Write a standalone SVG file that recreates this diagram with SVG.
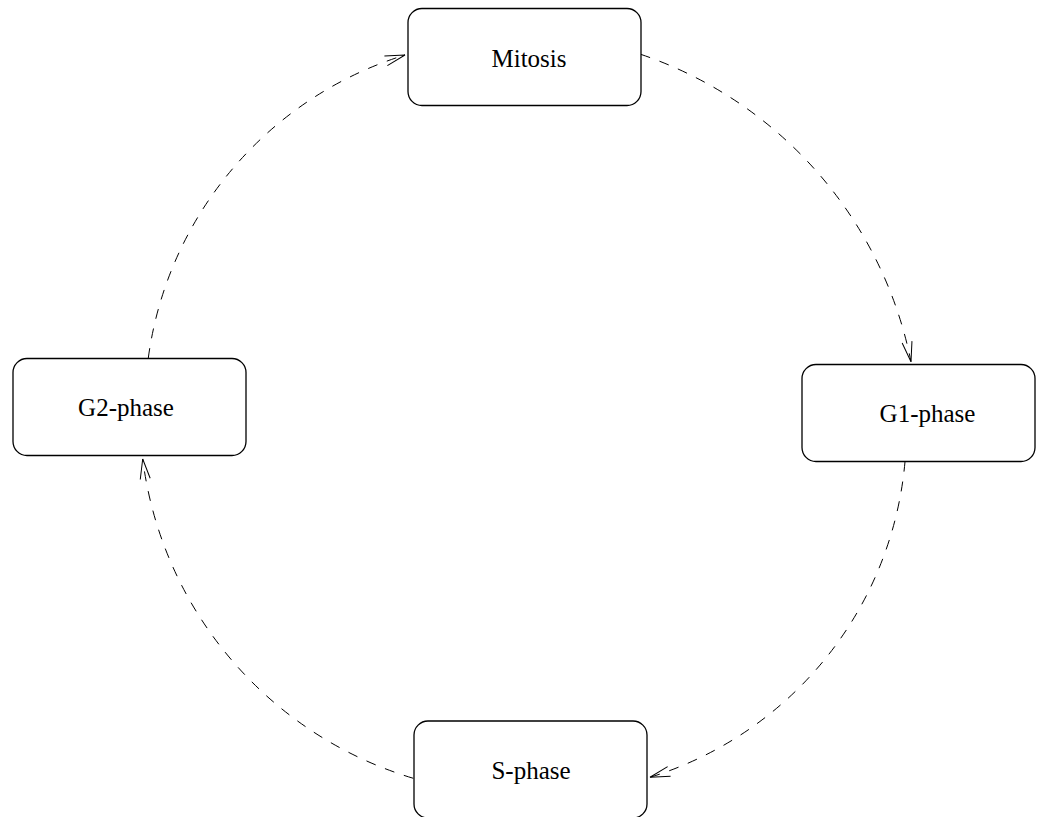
<svg xmlns="http://www.w3.org/2000/svg" width="1037" height="817" viewBox="0 0 1037 817">
  <style>
    .box { fill: #ffffff; stroke: #000000; stroke-width: 1.3; }
    .lbl { font-family: "Liberation Serif", "Times New Roman", serif; font-size: 25px; fill: #000000; text-anchor: middle; }
    .arc { fill: none; stroke: #000000; stroke-width: 1; stroke-dasharray: 10 10; }
  </style>
  <defs>
    <marker id="arrow" markerUnits="userSpaceOnUse" markerWidth="24" markerHeight="14" refX="0" refY="0" viewBox="-22 -7 24 14" orient="auto" overflow="visible">
      <path d="M-20,-5 L0,0 L-20,5" fill="none" stroke="#000000" stroke-width="1"/>
    </marker>
  </defs>
  <rect width="1037" height="817" fill="#ffffff"/>
  <g id="connectors">
    <path class="arc" d="M640.7,54.3 A409.7,409.7 0 0 1 911,361.7" marker-end="url(#arrow)"/>
    <path class="arc" d="M905,461.7 A363.7,363.7 0 0 1 650,777.3" marker-end="url(#arrow)"/>
    <path class="arc" d="M413.3,778.3 A383.5,383.5 0 0 1 142.7,459" marker-end="url(#arrow)"/>
    <path class="arc" d="M148.3,358 A368.8,368.8 0 0 1 405,55" marker-end="url(#arrow)"/>
  </g>
  <g id="mitosis">
    <rect class="box" x="408" y="8.5" width="233" height="97" rx="14" ry="14"/>
    <text class="lbl" x="529" y="67">Mitosis</text>
  </g>
  <g id="g1-phase">
    <rect class="box" x="802" y="364.5" width="233" height="97" rx="14" ry="14"/>
    <text class="lbl" x="927.5" y="422">G1-phase</text>
  </g>
  <g id="s-phase">
    <rect class="box" x="414" y="721" width="233" height="97" rx="14" ry="14"/>
    <text class="lbl" x="531" y="779">S-phase</text>
  </g>
  <g id="g2-phase">
    <rect class="box" x="13" y="358.5" width="233" height="97" rx="14" ry="14"/>
    <text class="lbl" x="126" y="416">G2-phase</text>
  </g>
</svg>
